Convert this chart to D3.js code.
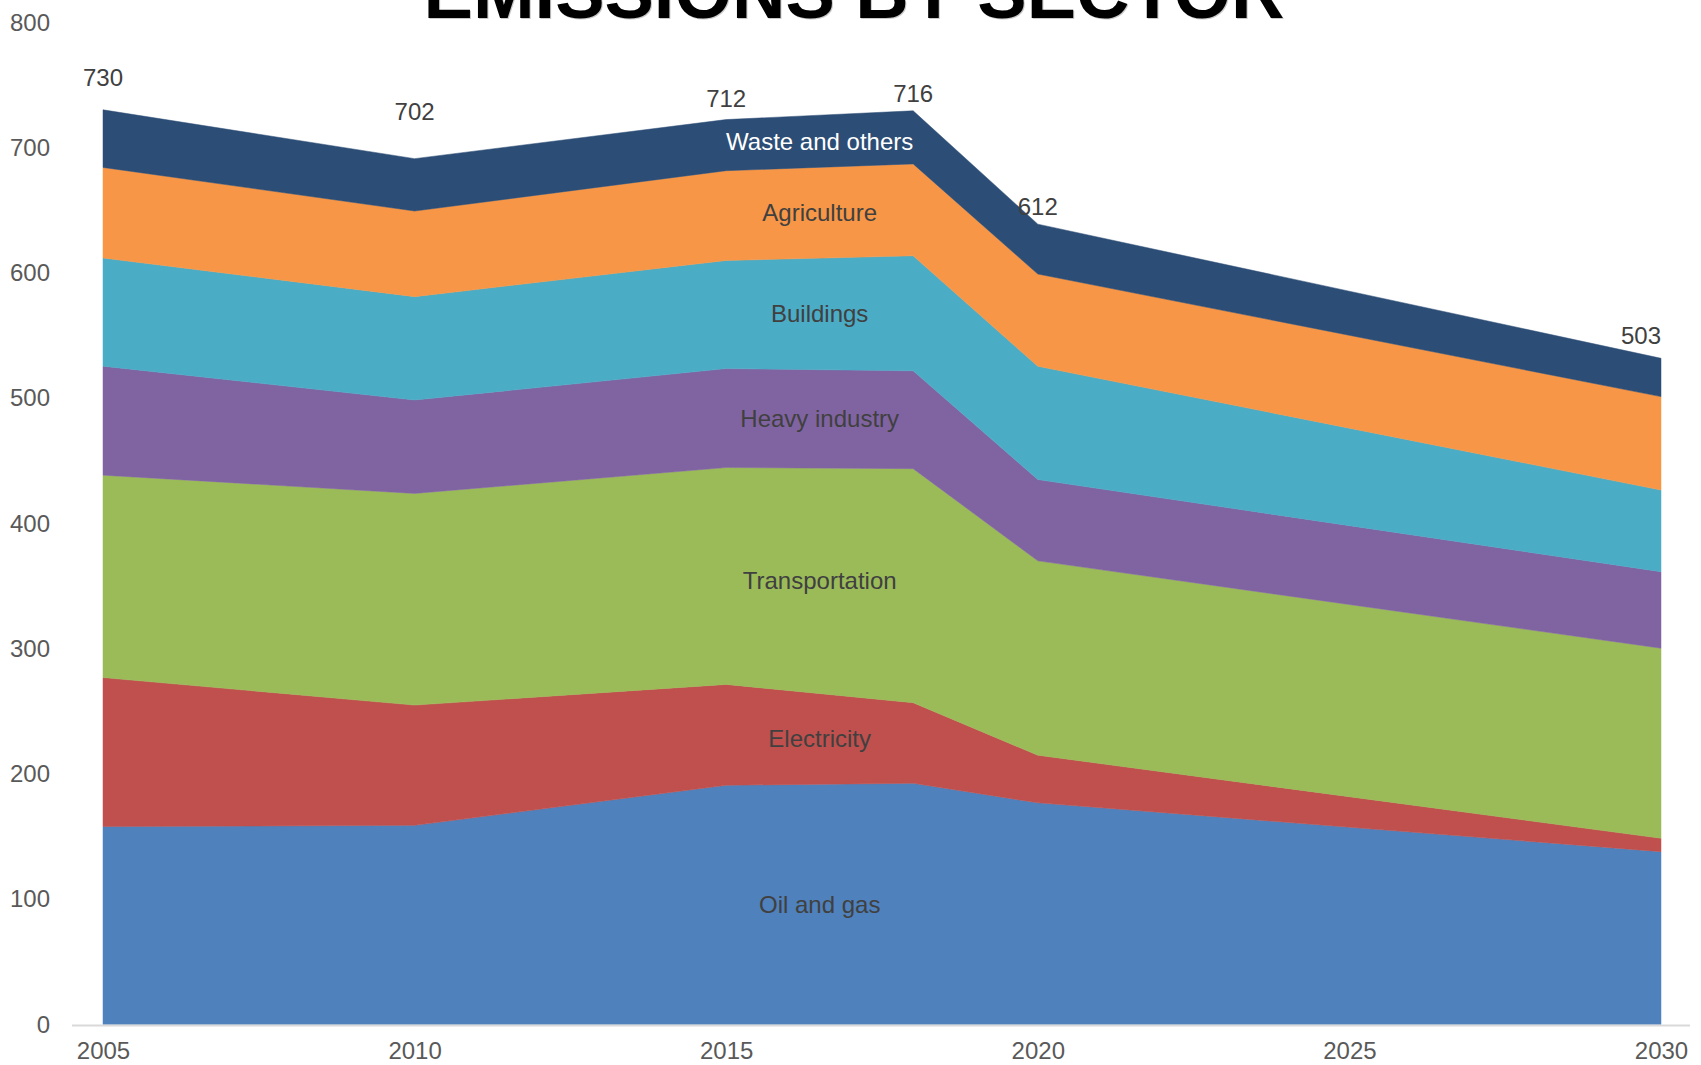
<!DOCTYPE html>
<html>
<head>
<meta charset="utf-8">
<script src="https://cdn.jsdelivr.net/npm/d3@7"></script>
<style>
  html, body { margin: 0; padding: 0; background: #fff; }
  svg { display: block; }
  text { font-family: "Liberation Sans", Arial, sans-serif; }
</style>
</head>
<body>
<svg id="chart" width="1701" height="1065"></svg>
<script>
// ---- data ----
const years = [2005, 2010, 2015, 2018, 2020, 2030];
const sectors = ["Oil and gas", "Electricity", "Transportation", "Heavy industry", "Buildings", "Agriculture", "Waste and others"];
const oilGas         = [158, 159, 191, 192.6, 177, 138];
const electricity    = [119, 96, 80.5, 64.3, 38, 10.7];
const transportation = [161.6, 169, 173.2, 186.9, 155.2, 151.7];
const heavyIndustry  = [87, 74.6, 79, 78.1, 64.9, 61.1];
const buildings      = [86.4, 82.5, 86.3, 91.8, 90.4, 65.2];
const agriculture    = [72.3, 68.4, 71.7, 73.4, 73.7, 74.6];
const wasteOthers    = [46, 41.8, 40.8, 42.4, 39.8, 30.6];
const totalLabels    = ["730", "702", "712", "716", "612", "503"];
const totalLabelAt   = [756.3, 728.5, 739.2, 743.2, 653.3, 549.7];
const yTicks = [0, 100, 200, 300, 400, 500, 600, 700, 800];
const xTicks = [2005, 2010, 2015, 2020, 2025, 2030];
const labelYear = 2016.5;
const title = "EMISSIONS BY SECTOR";

const colors = ["#4f81bd", "#c0504d", "#9bbb59", "#8064a2", "#4bacc6", "#f79646", "#2c4d75"];
const labelColors = ["#404040", "#404040", "#404040", "#404040", "#404040", "#404040", "#ffffff"];

const seriesValues = [oilGas, electricity, transportation, heavyIndustry, buildings, agriculture, wasteOthers];
const rows = years.map((yr, i) => {
  const r = { year: yr };
  sectors.forEach((s, k) => r[s] = seriesValues[k][i]);
  return r;
});

// ---- layout ----
const svg = d3.select("#chart");
const x = d3.scaleLinear().domain([2005, 2030]).range([103, 1661]);
const y = d3.scaleLinear().domain([0, 800]).range([1024.5, 22.5]);

const stack = d3.stack().keys(sectors);
const layers = stack(rows);

const area = d3.area()
  .x(d => x(d.data.year))
  .y0(d => y(d[0]))
  .y1(d => y(d[1]));

svg.append("g").selectAll("path")
  .data(layers)
  .join("path")
  .attr("d", area)
  .attr("fill", (d, i) => colors[i])
  .attr("stroke", (d, i) => colors[i])
  .attr("stroke-width", 0.5);

// x axis line
svg.append("line")
  .attr("x1", 72).attr("x2", 1690)
  .attr("y1", y(0) + 1).attr("y2", y(0) + 1)
  .attr("stroke", "#d9d9d9").attr("stroke-width", 2);

// y axis
const yAxis = d3.axisLeft(y).tickValues(yTicks).tickSize(0).tickPadding(0);
const gy = svg.append("g").attr("transform", "translate(50,0)").call(yAxis);
gy.select(".domain").remove();
gy.selectAll("text")
  .attr("font-size", 24)
  .attr("fill", "#595959")
  .style("font-family", '"Liberation Sans", Arial, sans-serif');

// x axis
const xAxis = d3.axisBottom(x).tickValues(xTicks).tickFormat(d3.format("d")).tickSize(0).tickPadding(0);
const gx = svg.append("g").attr("transform", "translate(0,1042)").call(xAxis);
gx.select(".domain").remove();
gx.selectAll("text")
  .attr("font-size", 24)
  .attr("fill", "#595959")
  .style("font-family", '"Liberation Sans", Arial, sans-serif');

// band labels (middle of each band at labelYear)
function interp(arr, yr) {
  for (let i = 0; i < years.length - 1; i++) {
    if (yr >= years[i] && yr <= years[i + 1]) {
      const t = (yr - years[i]) / (years[i + 1] - years[i]);
      return arr[i] + t * (arr[i + 1] - arr[i]);
    }
  }
  return arr[arr.length - 1];
}
svg.append("g").selectAll("text")
  .data(layers)
  .join("text")
  .attr("x", x(labelYear))
  .attr("y", d => {
    const lo = interp(d.map(p => p[0]), labelYear);
    const hi = interp(d.map(p => p[1]), labelYear);
    return y((lo + hi) / 2);
  })
  .attr("dy", "0.35em")
  .attr("text-anchor", "middle")
  .attr("font-size", 24)
  .attr("fill", (d, i) => labelColors[i])
  .text(d => d.key);

// total labels
svg.append("g").selectAll("text")
  .data(totalLabels)
  .join("text")
  .attr("x", (d, i) => x(years[i]))
  .attr("y", (d, i) => y(totalLabelAt[i]))
  .attr("dy", "0.35em")
  .attr("text-anchor", (d, i) => i === totalLabels.length - 1 ? "end" : "middle")
  .attr("font-size", 24)
  .attr("fill", "#404040")
  .text(d => d);

// title (clipped at top as in the reference)
svg.append("text")
  .attr("x", 855).attr("y", 19)
  .attr("text-anchor", "middle")
  .attr("font-size", 74).attr("font-weight", "bold")
  .attr("fill", "#a6a6a6").attr("opacity", 0.6)
  .text(title);
svg.append("text")
  .attr("x", 854).attr("y", 17.5)
  .attr("text-anchor", "middle")
  .attr("font-size", 74).attr("font-weight", "bold")
  .attr("fill", "#000")
  .text(title);
</script>
</body>
</html>
